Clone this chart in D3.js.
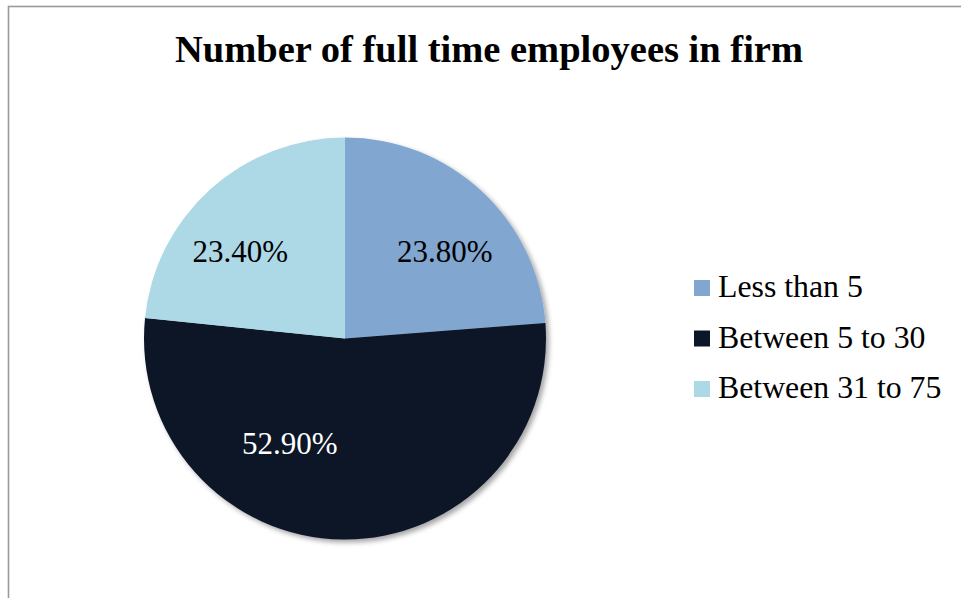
<!DOCTYPE html>
<html><head><meta charset="utf-8">
<script src="https://cdn.jsdelivr.net/npm/d3@7"></script>
<style>
html,body{margin:0;padding:0;background:#fff;}
svg{display:block;}
</style></head>
<body>
<svg id="chart" width="961" height="598"></svg>
<script>
const title = "Number of full time employees in firm";
const categories = ["Less than 5", "Between 5 to 30", "Between 31 to 75"];
const values = [23.8, 52.9, 23.4];
const colors = ["#81a6d0", "#0b1728", "#add8e5"];
const labelColors = ["#000000", "#ffffff", "#000000"];
// layout nudges for label placement (degrees relative to slice mid-angle, radius fraction)
const labelAngleShift = [6, 27, -8];
const labelRadiusFrac = [0.66, 0.59, 0.68];

const svg = d3.select("#chart");
const font = "'Liberation Serif','Times New Roman',serif";

// border
svg.append("rect").attr("x", 8.5).attr("y", 6.5).attr("width", 1200).attr("height", 1200)
  .attr("fill", "#fff").attr("stroke", "#9a9a9a").attr("stroke-width", 1.6);

// shadow filter
const defs = svg.append("defs");
const f = defs.append("filter").attr("id", "shadow").attr("x", "-10%").attr("y", "-10%").attr("width", "130%").attr("height", "130%");
f.append("feDropShadow").attr("dx", 3).attr("dy", 3).attr("stdDeviation", 2.5)
  .attr("flood-color", "#000").attr("flood-opacity", 0.35);

svg.append("text").attr("x", 489).attr("y", 62).attr("text-anchor", "middle")
  .attr("font-family", font).attr("font-weight", "bold").attr("font-size", 38.5)
  .attr("fill", "#000").text(title);

const cx = 345, cy = 338.5, R = 201;
const pie = d3.pie().sort(null).value(d => d)(values);
const arc = d3.arc().innerRadius(0).outerRadius(R);

const g = svg.append("g").attr("transform", `translate(${cx},${cy})`);
g.append("g").attr("filter", "url(#shadow)")
  .selectAll("path").data(pie).join("path")
  .attr("d", arc).attr("fill", (d, i) => colors[i]);

g.selectAll("text.lbl").data(pie).join("text").attr("class", "lbl")
  .each(function (d, i) {
    const a = (d.startAngle + d.endAngle) / 2 + labelAngleShift[i] * Math.PI / 180;
    const r = R * labelRadiusFrac[i];
    d3.select(this).attr("x", r * Math.sin(a)).attr("y", -r * Math.cos(a));
  })
  .attr("text-anchor", "middle").attr("dy", "0.35em")
  .attr("font-family", font).attr("font-size", 31)
  .attr("fill", (d, i) => labelColors[i])
  .text(d => d3.format(".2f")(d.data) + "%");

// legend
const lg = svg.append("g");
const rows = lg.selectAll("g").data(categories).join("g")
  .attr("transform", (d, i) => `translate(694, ${297 + i * 50.5})`);
rows.append("rect").attr("x", 0).attr("y", -17).attr("width", 16).attr("height", 16)
  .attr("fill", (d, i) => colors[i]);
rows.append("text").attr("x", 24).attr("y", 0)
  .attr("font-family", font).attr("font-size", 31.8).attr("fill", "#000").text(d => d);
</script>
</body></html>
